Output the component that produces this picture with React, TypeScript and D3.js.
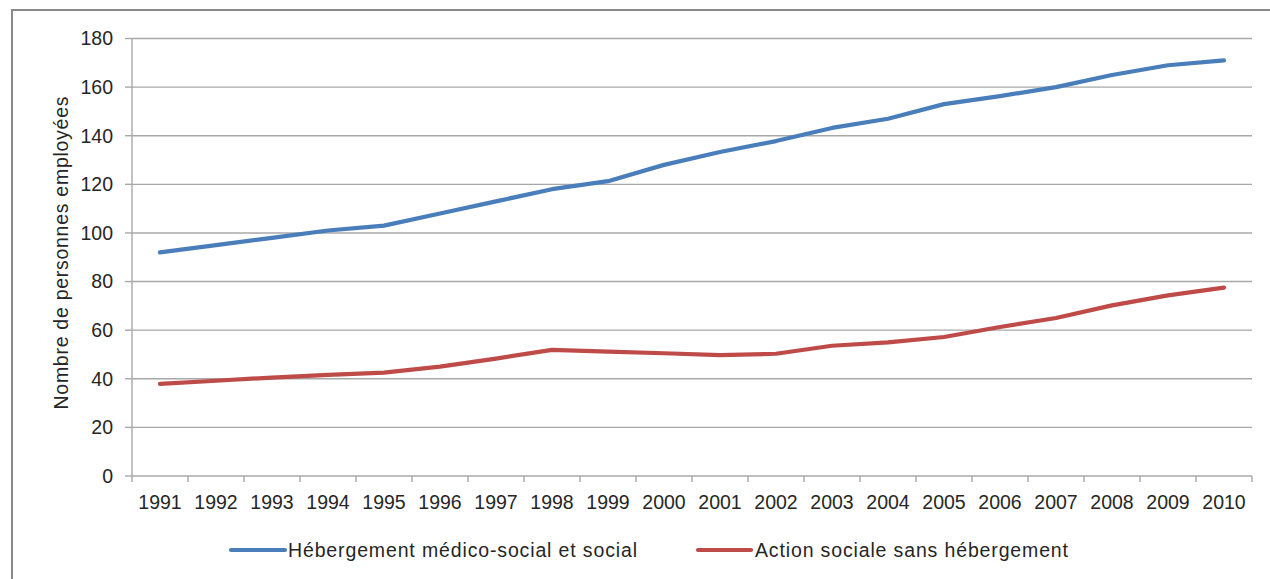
import React from 'react';
import * as d3 from 'd3';

const years = ['1991', '1992', '1993', '1994', '1995', '1996', '1997', '1998', '1999', '2000',
  '2001', '2002', '2003', '2004', '2005', '2006', '2007', '2008', '2009', '2010'];

const hebergement = [92, 95, 98, 101, 103, 108, 113, 118, 121.3, 128,
  133.3, 137.8, 143.2, 147, 153, 156.3, 160, 165, 169, 171];

const actionSociale = [37.9, 39.2, 40.5, 41.6, 42.5, 45, 48.3, 51.9, 51.2, 50.5,
  49.7, 50.3, 53.6, 55, 57.2, 61.3, 65, 70.2, 74.3, 77.5];

const yTicks = [0, 20, 40, 60, 80, 100, 120, 140, 160, 180];

const series = [
  { name: 'Hébergement médico-social et social', values: hebergement, color: '#4A7EBB' },
  { name: 'Action sociale sans hébergement', values: actionSociale, color: '#BE4B48' },
];

const W = 1270;
const H = 579;
const margin = { left: 132, right: 18, top: 38.5, bottom: 103 };
const font = '"Liberation Sans", Arial, sans-serif';

export default function App() {
  const x = d3.scaleBand<string>()
    .domain(years)
    .range([margin.left, W - margin.right]);

  const y = d3.scaleLinear()
    .domain([0, 180])
    .range([H - margin.bottom, margin.top]);

  const line = d3.line<number>()
    .x((_, i) => (x(years[i]) || 0) + x.bandwidth() / 2)
    .y(d => y(d));

  const x0 = margin.left;
  const x1 = W - margin.right;
  const yBase = y(0);
  const tickEdges = years.map(yr => x(yr) || 0).concat([x1]);

  return (
    <svg width={W} height={H} style={{ position: 'absolute', left: 0, top: 0 }} fontFamily={font}>
      <rect x={0} y={0} width={W} height={H} fill="#fff" />
      {/* outer frame */}
      <rect x={12} y={10} width={W + 20} height={H + 20} fill="none" stroke="#8a8a8a" strokeWidth={2} />

      {/* grid lines */}
      {yTicks.map(t => (
        <line key={t} x1={x0} x2={x1} y1={y(t)} y2={y(t)} stroke="#a8a8a8" strokeWidth={1.4} />
      ))}

      {/* y axis */}
      <line x1={x0} x2={x0} y1={y(180)} y2={yBase} stroke="#a8a8a8" strokeWidth={1.4} />
      {yTicks.map(t => (
        <g key={'yt' + t}>
          <line x1={x0 - 7} x2={x0} y1={y(t)} y2={y(t)} stroke="#a8a8a8" strokeWidth={1.4} />
          <text x={113} y={y(t)} dy="0.35em" textAnchor="end" fontSize={19.5} fill="#262626">{t}</text>
        </g>
      ))}

      {/* x axis ticks */}
      {tickEdges.map((tx, i) => (
        <line key={'xt' + i} x1={tx} x2={tx} y1={yBase} y2={yBase + 6} stroke="#a8a8a8" strokeWidth={1.4} />
      ))}
      {years.map(yr => (
        <text key={yr} x={(x(yr) || 0) + x.bandwidth() / 2} y={502} dy="0.35em" textAnchor="middle"
          fontSize={19.5} fill="#262626">{yr}</text>
      ))}

      {/* y axis title */}
      <text transform={`translate(61, 253) rotate(-90)`} dy="0.35em" textAnchor="middle"
        fontSize={19.5} fill="#262626" textLength={313} lengthAdjust="spacing">Nombre de personnes employées</text>

      {/* series */}
      {series.map(s => (
        <path key={s.name} d={line(s.values) || ''} fill="none" stroke={s.color} strokeWidth={4.2}
          strokeLinecap="round" strokeLinejoin="round" />
      ))}

      {/* legend */}
      <g>
        <line x1={231} x2={285} y1={550} y2={550} stroke={series[0].color} strokeWidth={4.2} strokeLinecap="round" />
        <text x={288} y={550} dy="0.35em" fontSize={19.5} fill="#262626" textLength={349} lengthAdjust="spacing">{series[0].name}</text>
        <line x1={698} x2={751} y1={550} y2={550} stroke={series[1].color} strokeWidth={4.2} strokeLinecap="round" />
        <text x={755} y={550} dy="0.35em" fontSize={19.5} fill="#262626" textLength={313} lengthAdjust="spacing">{series[1].name}</text>
      </g>
    </svg>
  );
}
